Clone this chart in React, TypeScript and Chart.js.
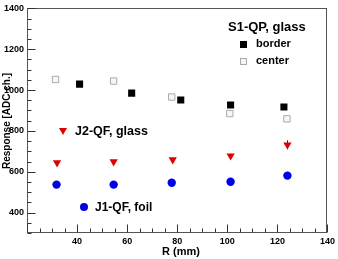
import React, { useEffect, useRef } from 'react';
import { Chart, registerables } from 'chart.js';

Chart.register(...registerables);

// S1-QP, glass — border
const borderR = [41.0, 61.8, 81.4, 101.3, 122.6];
const borderResp = [1029, 985, 951, 927, 917];
const borderErr = [8, 8, 10, 14, 8];
// S1-QP, glass — center
const centerR = [31.4, 54.6, 77.8, 101.0, 123.8];
const centerResp = [1052, 1044, 966, 885, 859];
const centerErr = [5, 5, 5, 8, 8];
// J2-QF, glass
const j2R = [32.0, 54.6, 78.2, 101.3, 124.0];
const j2Resp = [644, 649, 659, 678, 732];
const j2Err = [10, 8, 8, 8, 22];
// J1-QF, foil
const j1R = [31.8, 54.6, 77.8, 101.3, 124.0];
const j1Resp = [537, 537, 546, 551, 581];
const j1Err = [8, 8, 10, 10, 16];

const xTickLabels = [40, 60, 80, 100, 120, 140];
const yTickLabels = [400, 600, 800, 1000, 1200, 1400];

const FONT = '"Liberation Sans", Arial, Helvetica, sans-serif';

const toPts = (xs: number[], ys: number[]) => xs.map((x, i) => ({ x, y: ys[i] }));

export default function App() {
  const ref = useRef<HTMLCanvasElement | null>(null);
  useEffect(() => {
    document.body.style.margin = '0';
    const errs = [borderErr, centerErr, j2Err, j1Err];
    const errPlugin = {
      id: 'errbars',
      beforeDatasetsDraw(chart: any) {
        const ctx = chart.ctx;
        const ys = chart.scales.y;
        ctx.save();
        chart.data.datasets.forEach((ds: any, di: number) => {
          const meta = chart.getDatasetMeta(di);
          ctx.strokeStyle = di === 1 ? '#999' : '#222';
          ctx.lineWidth = 1;
          meta.data.forEach((el: any, i: number) => {
            const v = ds.data[i].y;
            const e = errs[di][i];
            const y1 = ys.getPixelForValue(v + e);
            const y2 = ys.getPixelForValue(v - e);
            ctx.beginPath();
            ctx.moveTo(Math.round(el.x) + 0.5, y1);
            ctx.lineTo(Math.round(el.x) + 0.5, y2);
            ctx.stroke();
          });
        });
        ctx.restore();
      },
    };
    const framePlugin = {
      id: 'frame',
      afterDraw(chart: any) {
        const ctx = chart.ctx;
        const a = chart.chartArea;
        const xs = chart.scales.x;
        const ys = chart.scales.y;
        ctx.save();
        ctx.strokeStyle = '#555';
        ctx.lineWidth = 1;
        const L = Math.round(a.left) + 0.5;
        const R = Math.round(a.right) - 0.5;
        const T = Math.round(a.top) + 0.5;
        const B = Math.round(a.bottom) - 0.5;
        ctx.strokeRect(L, T, R - L, B - T);
        ctx.strokeStyle = '#333';
        for (let v = 20; v <= 140; v += 5) {
          const px = Math.round(xs.getPixelForValue(v)) + 0.5;
          const len = v % 20 === 0 ? 8 : 4;
          ctx.beginPath();
          ctx.moveTo(px, B);
          ctx.lineTo(px, B - len);
          ctx.stroke();
        }
        for (let v = 300; v <= 1400; v += 50) {
          const py = Math.round(ys.getPixelForValue(v)) + 0.5;
          const len = v % 200 === 0 ? 8 : 4;
          ctx.beginPath();
          ctx.moveTo(L, py);
          ctx.lineTo(L + len, py);
          ctx.stroke();
        }
        ctx.fillStyle = '#000';
        ctx.textBaseline = 'middle';
        ctx.textAlign = 'left';
        ctx.font = `bold 13px ${FONT}`;
        ctx.fillText('S1-QP, glass', 228, 27);
        ctx.font = `bold 11px ${FONT}`;
        ctx.fillText('border', 256, 44);
        ctx.fillText('center', 256, 61);
        ctx.fillRect(240, 41, 7, 7);
        ctx.strokeStyle = '#aaa';
        ctx.fillStyle = '#f6f6f6';
        ctx.fillRect(240.5, 58.5, 6, 6);
        ctx.strokeRect(240.5, 58.5, 6, 6);
        ctx.fillStyle = '#000';
        ctx.font = `bold 12.5px ${FONT}`;
        ctx.fillText('J2-QF, glass', 75, 132);
        ctx.font = `bold 12px ${FONT}`;
        ctx.fillText('J1-QF, foil', 95, 208);
        ctx.fillStyle = '#e00000';
        ctx.beginPath();
        ctx.moveTo(59, 128);
        ctx.lineTo(67, 128);
        ctx.lineTo(63, 135);
        ctx.closePath();
        ctx.fill();
        ctx.fillStyle = '#0000e6';
        ctx.beginPath();
        ctx.arc(84, 207, 4, 0, Math.PI * 2);
        ctx.fill();
        ctx.fillStyle = '#000';
        ctx.font = `bold 11px ${FONT}`;
        ctx.textAlign = 'left';
        ctx.fillText('R (mm)', 162, 252);
        ctx.save();
        ctx.translate(7, 121);
        ctx.rotate(-Math.PI / 2);
        ctx.textAlign = 'center';
        ctx.font = `bold 10px ${FONT}`;
        ctx.fillText('Response [ADC ch.]', 0, 0);
        ctx.restore();
        ctx.restore();
      },
    };
    const chart = new Chart(ref.current as HTMLCanvasElement, {
      type: 'scatter',
      data: {
        datasets: [
          {
            label: 'border',
            data: toPts(borderR, borderResp),
            pointStyle: 'rect',
            pointRadius: 5,
            backgroundColor: '#000',
            borderColor: '#000',
            borderWidth: 0,
          },
          {
            label: 'center',
            data: toPts(centerR, centerResp),
            pointStyle: 'rect',
            pointRadius: 4.5,
            backgroundColor: '#f6f6f6',
            borderColor: '#aaa',
            borderWidth: 1,
          },
          {
            label: 'J2-QF, glass',
            data: toPts(j2R, j2Resp),
            pointStyle: 'triangle',
            rotation: 180,
            pointRadius: 4.8,
            backgroundColor: '#e00000',
            borderColor: '#e00000',
            borderWidth: 0,
          },
          {
            label: 'J1-QF, foil',
            data: toPts(j1R, j1Resp),
            pointStyle: 'circle',
            pointRadius: 4.2,
            backgroundColor: '#0000e6',
            borderColor: '#0000e6',
            borderWidth: 0,
          },
        ],
      },
      options: {
        animation: false,
        responsive: false,
        devicePixelRatio: 1,
        layout: { padding: { top: 7, right: 10, left: 0, bottom: 0 } },
        plugins: { legend: { display: false }, tooltip: { enabled: false } },
        scales: {
          x: {
            type: 'linear',
            min: 20,
            max: 140,
            afterFit: (s: any) => { s.height = 26; },
            afterBuildTicks: (s: any) => { s.ticks = xTickLabels.map((v) => ({ value: v })); },
            grid: { display: false, drawTicks: false },
            border: { display: false },
            ticks: {
              padding: 3,
              color: '#000',
              font: { family: FONT, size: 9, weight: 'bold' },
              maxRotation: 0,
              callback: (v: any) => String(v),
            },
          },
          y: {
            type: 'linear',
            min: 300,
            max: 1400,
            afterFit: (s: any) => { s.width = 27; },
            afterBuildTicks: (s: any) => { s.ticks = yTickLabels.map((v) => ({ value: v })); },
            grid: { display: false, drawTicks: false },
            border: { display: false },
            ticks: {
              padding: 3,
              color: '#000',
              font: { family: FONT, size: 9, weight: 'bold' },
              callback: (v: any) => String(v),
            },
          },
        },
      } as any,
      plugins: [errPlugin, framePlugin],
    });
    return () => chart.destroy();
  }, []);
  return <canvas ref={ref} width={338} height={259} style={{ display: 'block' }} />;
}
